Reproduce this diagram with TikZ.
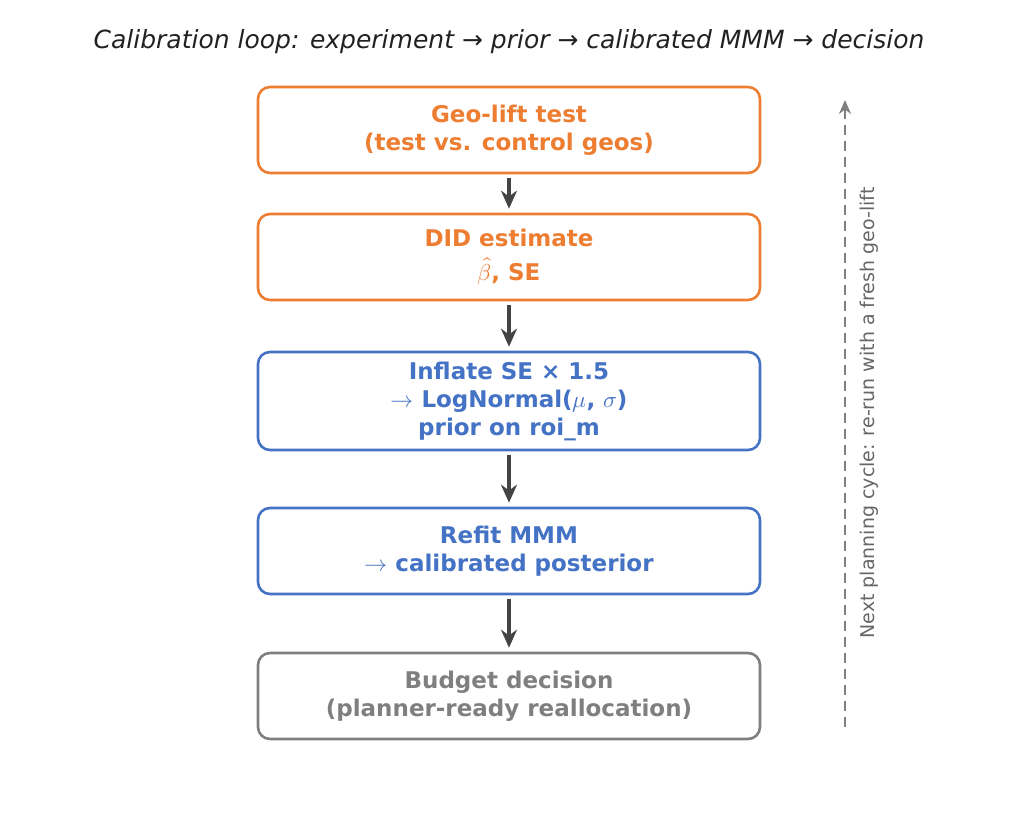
\documentclass[tikz,border=0pt]{standalone}
\usepackage{fontspec}
\setmainfont{DejaVu Sans}
\usepackage{unicode-math}
\usetikzlibrary{calc,positioning,arrows.meta}
\definecolor{orng}{HTML}{ED7D31}
\definecolor{blu}{HTML}{4472C4}
\definecolor{gry}{HTML}{7F7F7F}
\definecolor{dark}{HTML}{444444}
\tikzset{
  line/.style={-{Stealth[length=9pt,width=8pt]}, line width=1.6pt, draw=dark},
  box/.style={draw, rounded corners=6pt, align=center, line width=1.3pt, fill=white,
    minimum width=251pt, font=\fontsize{11.5}{14}\selectfont\bfseries},
  stagebox/.style={box, minimum height=43pt},
  tallbox/.style={box, minimum height=49pt}
}
\begin{document}
\begin{tikzpicture}[x=0.5pt,y=-0.5pt]
  \useasboundingbox (0,0) rectangle (1018,838);
  \node[text=black!87, font=\fontsize{12.5}{15}\selectfont\itshape] (title) at (509,42)
    {Calibration loop: experiment → prior → calibrated MMM → decision};
  \node[stagebox, draw=orng, text=orng] (geo) at (509,130) {Geo-lift test\\(test vs. control geos)};
  \node[stagebox, draw=orng, text=orng] (did) at (509,257) {DID estimate\\[3pt]$\hat{\beta}$, SE};
  \node[tallbox, draw=blu, text=blu] (infl) at (509,401)
    {Inflate SE × 1.5\\$\rightarrow$ LogNormal($\mu$, $\sigma$)\\prior on roi\_m};
  \node[stagebox, draw=blu, text=blu] (refit) at (509,551) {Refit MMM\\$\rightarrow$ calibrated posterior};
  \node[stagebox, draw=gry, text=gry] (budget) at (509,696) {Budget decision\\(planner-ready reallocation)};
  \draw[line] ([yshift=-2pt]geo.south) -- ([yshift=2pt]did.north);
  \draw[line] ([yshift=-2pt]did.south) -- ([yshift=2pt]infl.north);
  \draw[line] ([yshift=-2pt]infl.south) -- ([yshift=2pt]refit.north);
  \draw[line] ([yshift=-2pt]refit.south) -- ([yshift=2pt]budget.north);
  % feedback
  \coordinate (loopbot) at (845,727);
  \coordinate (looptop) at (845,100);
  \draw[-{Stealth[length=7pt,width=6pt]}, dashed, dash pattern=on 5pt off 3pt, line width=1pt, draw=gry]
    (loopbot) -- (looptop);
  \node[rotate=90, text=black!60, font=\fontsize{9.5}{11}\selectfont] (note) at (869,413)
    {Next planning cycle: re-run with a fresh geo-lift};
\end{tikzpicture}
\end{document}
